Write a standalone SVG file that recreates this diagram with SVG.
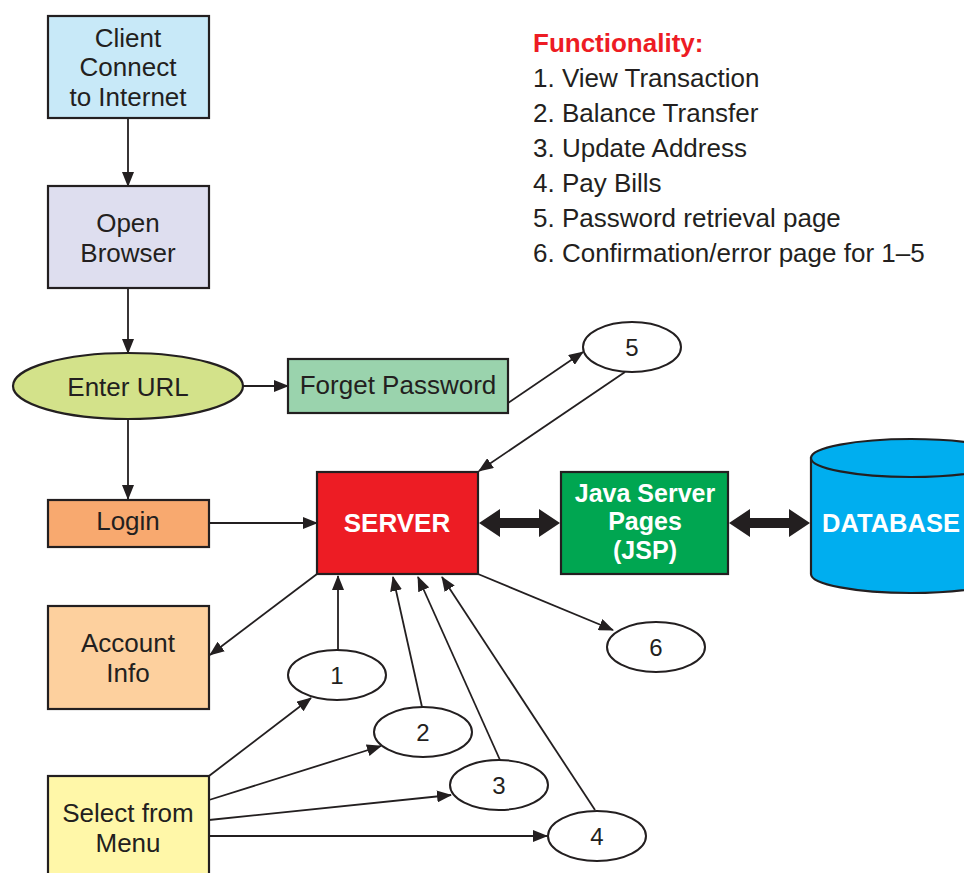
<svg xmlns="http://www.w3.org/2000/svg" width="964" height="873" viewBox="0 0 964 873">
<defs>
<marker id="ah" markerUnits="userSpaceOnUse" markerWidth="15" markerHeight="12" refX="14" refY="6" orient="auto">
<path d="M0,0 L15,6 L0,12 Z" fill="#231F20"/>
</marker>
<style>
.box{stroke:#231F20;stroke-width:2.2}
.t{font-family:"Liberation Sans",Arial,sans-serif;font-size:26px;fill:#231F20;text-anchor:middle}
.tw{font-family:"Liberation Sans",Arial,sans-serif;font-size:26px;font-weight:bold;fill:#fff;text-anchor:middle}
.n{font-family:"Liberation Sans",Arial,sans-serif;font-size:24px;fill:#231F20;text-anchor:middle}
.l{font-family:"Liberation Sans",Arial,sans-serif;font-size:26px;fill:#231F20}
.c{fill:none;stroke:#231F20;stroke-width:1.8;marker-end:url(#ah)}
.e{fill:#fff;stroke:#231F20;stroke-width:2}
</style>
</defs>
<rect width="964" height="873" fill="#fff"/>

<g id="legend">
<text x="533" y="52" class="l" style="fill:#ED1C24;font-weight:bold">Functionality:</text>
<text x="533" y="87" class="l">1. View Transaction</text>
<text x="533" y="122" class="l">2. Balance Transfer</text>
<text x="533" y="157" class="l">3. Update Address</text>
<text x="533" y="192" class="l">4. Pay Bills</text>
<text x="533" y="227" class="l">5. Password retrieval page</text>
<text x="533" y="262" class="l">6. Confirmation/error page for 1–5</text>
</g>

<g id="connectors">
<line x1="128" y1="118" x2="128" y2="186" class="c"/>
<line x1="128" y1="289" x2="128" y2="353" class="c"/>
<line x1="243" y1="386" x2="288" y2="386" class="c"/>
<line x1="128" y1="419" x2="128" y2="499" class="c"/>
<line x1="210" y1="523" x2="317" y2="523" class="c"/>
<line x1="508" y1="403" x2="583" y2="352" class="c"/>
<line x1="625" y1="372" x2="479" y2="471" class="c"/>
<line x1="317" y1="574" x2="210" y2="655" class="c"/>
<line x1="338" y1="650" x2="338" y2="576" class="c"/>
<line x1="422" y1="707" x2="393" y2="577" class="c"/>
<line x1="500" y1="760" x2="418" y2="577" class="c"/>
<line x1="595" y1="810" x2="442" y2="577" class="c"/>
<line x1="478" y1="574" x2="613" y2="630" class="c"/>
<line x1="209" y1="776" x2="311" y2="698" class="c"/>
<line x1="209" y1="800" x2="381" y2="746" class="c"/>
<line x1="209" y1="820" x2="451" y2="795" class="c"/>
<line x1="207" y1="836" x2="547" y2="836" class="c"/>
<path d="M479,523 L500,509 L500,518 L539,518 L539,509 L560,523 L539,537 L539,528 L500,528 L500,537 Z" fill="#231F20"/>
<path d="M729,523 L750,509 L750,518 L789,518 L789,509 L810,523 L789,537 L789,528 L750,528 L750,537 Z" fill="#231F20"/>
</g>

<g id="client">
<rect x="48" y="16" width="161" height="102" fill="#C8E9F8" class="box"/>
<text x="128" y="47" class="t">Client</text>
<text x="128" y="76" class="t">Connect</text>
<text x="128" y="106" class="t">to Internet</text>
</g>
<g id="browser">
<rect x="48" y="186" width="161" height="102" fill="#DEDEEF" class="box"/>
<text x="128" y="232" class="t">Open</text>
<text x="128" y="262" class="t">Browser</text>
</g>
<g id="url">
<ellipse cx="128" cy="386" rx="115" ry="33" fill="#D3E28A" class="box"/>
<text x="128" y="396" class="t">Enter URL</text>
</g>
<g id="forget">
<rect x="288" y="359" width="220" height="54" fill="#9AD3AD" class="box"/>
<text x="398" y="394" class="t">Forget Password</text>
</g>
<g id="login">
<rect x="48" y="500" width="161" height="47" fill="#F8A96F" class="box"/>
<text x="128" y="530" class="t">Login</text>
</g>
<g id="server">
<rect x="317" y="472" width="161" height="102" fill="#ED1C24" class="box"/>
<text x="397" y="532" class="tw">SERVER</text>
</g>
<g id="jsp">
<rect x="561" y="472" width="167" height="102" fill="#00A651" class="box"/>
<text x="645" y="502" class="tw" style="font-size:25px">Java Server</text>
<text x="645" y="530" class="tw" style="font-size:25px">Pages</text>
<text x="645" y="559" class="tw" style="font-size:25px">(JSP)</text>
</g>
<g id="database">
<path d="M811,458 L811,574 A100,19 0 0 0 1011,574 L1011,458 Z" fill="#00AEEF" class="box"/>
<ellipse cx="911" cy="458" rx="100" ry="19" fill="#00AEEF" class="box"/>
<text x="891" y="532" class="tw" style="font-size:25.5px">DATABASE</text>
</g>
<g id="account">
<rect x="48" y="606" width="161" height="103" fill="#FDD09E" class="box"/>
<text x="128" y="652" class="t">Account</text>
<text x="128" y="682" class="t">Info</text>
</g>
<g id="menu">
<rect x="48" y="776" width="161" height="110" fill="#FFF7A8" class="box"/>
<text x="128" y="822" class="t">Select from</text>
<text x="128" y="852" class="t">Menu</text>
</g>
<g id="n5"><ellipse cx="632" cy="347" rx="49" ry="25" class="e"/><text x="632" y="356" class="n">5</text></g>
<g id="n1"><ellipse cx="337" cy="675" rx="49" ry="25" class="e"/><text x="337" y="684" class="n">1</text></g>
<g id="n2"><ellipse cx="423" cy="732" rx="49" ry="25" class="e"/><text x="423" y="741" class="n">2</text></g>
<g id="n3"><ellipse cx="499" cy="785" rx="49" ry="25" class="e"/><text x="499" y="794" class="n">3</text></g>
<g id="n4"><ellipse cx="597" cy="836" rx="49" ry="25" class="e"/><text x="597" y="845" class="n">4</text></g>
<g id="n6"><ellipse cx="656" cy="647" rx="49" ry="25" class="e"/><text x="656" y="656" class="n">6</text></g>
</svg>
